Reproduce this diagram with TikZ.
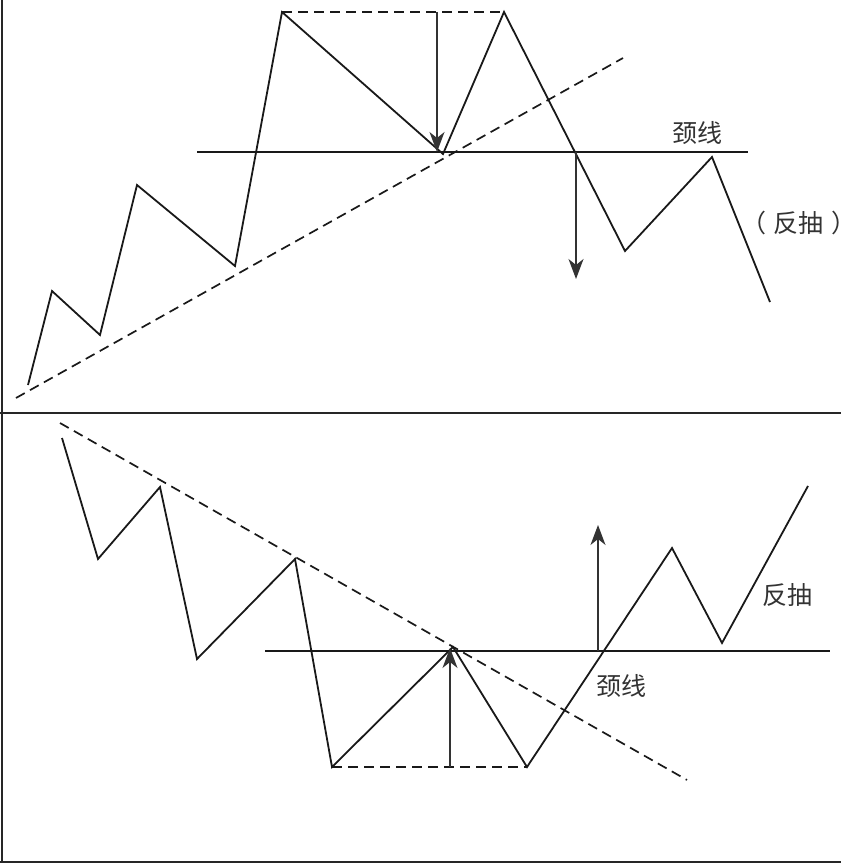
\documentclass[tikz,border=0pt]{standalone}
\usepackage{fontspec}
\newfontfamily\cjk{Noto Sans CJK SC}
\newfontfamily\cjkhalf{Noto Sans CJK SC}[RawFeature=+halt]
\usetikzlibrary{arrows.meta}
\tikzset{
  axisline/.style={line width=2.6pt, draw=black!85},
  price/.style={line width=1.8pt, draw=black!90, line join=miter},
  trend/.style={line width=1.7pt, draw=black!90, dash pattern=on 10pt off 6pt},
  neck/.style={line width=1.8pt, draw=black!90},
  measure/.style={line width=1.3pt, draw=black!80, -{Stealth[length=20pt,width=15pt,inset=6pt]}},
  lbl/.style={font=\cjk\fontsize{25pt}{25pt}\selectfont, text=black!80, inner sep=0pt}
}
\begin{document}
\begin{tikzpicture}[x=1pt,y=-1pt]
\useasboundingbox (0,0) rectangle (852,864);
% axes
\coordinate (O1) at (2,0);
\coordinate (O2) at (2,862);
\coordinate (M1) at (0,413);
\coordinate (M2) at (841,413);
\coordinate (L1) at (0,862);
\coordinate (L2) at (841,862);
\draw[axisline] (O1) -- (O2);
\draw[axisline] (M1) -- (M2);
\draw[axisline] (L1) -- (L2);

% ---------- top panel ----------
\coordinate (A1) at (28,385);
\coordinate (A2) at (52,291);
\coordinate (A3) at (100,335);
\coordinate (A4) at (137,185);
\coordinate (A5) at (235,266);
\coordinate (A6) at (282,12);
\coordinate (A7) at (443,154);
\coordinate (A8) at (504,12);
\coordinate (A9) at (625,251);
\coordinate (A10) at (712,157);
\coordinate (A11) at (770,302);
\coordinate (TS) at (16,398);
\coordinate (TE) at (623,58);
\coordinate (N1) at (197,152);
\coordinate (N2) at (748,152);
\coordinate (H1) at (437,12);
\coordinate (H2) at (437,152);
\coordinate (D1) at (576,152);
\coordinate (D2) at (576,279);

\draw[trend] (TS) -- (TE);
\draw[trend] (A6) -- (A8);
\draw[neck] (N1) -- (N2);
\draw[price] (A1) -- (A2) -- (A3) -- (A4) -- (A5) -- (A6) -- (A7) -- (A8) -- (A9) -- (A10) -- (A11);
\draw[measure] (H1) -- (H2);
\draw[measure] (D1) -- (D2);
\node[lbl] (tneck) at (697,133) {颈线};
\node[lbl] (tback) at (799,223) {{\cjkhalf（}\kern8pt 反抽\kern8pt{\cjkhalf）}};

% ---------- bottom panel ----------
\coordinate (B1) at (62,438);
\coordinate (B2) at (98,559);
\coordinate (B3) at (160,487);
\coordinate (B4) at (197,659);
\coordinate (B5) at (295,559);
\coordinate (B6) at (332,767);
\coordinate (B7) at (453,647);
\coordinate (B8) at (527,767);
\coordinate (B9) at (672,548);
\coordinate (B10) at (722,643);
\coordinate (B11) at (808,486);
\coordinate (US) at (60,423);
\coordinate (UE) at (687,780);
\coordinate (K1) at (265,651);
\coordinate (K2) at (830,651);
\coordinate (G1) at (450,767);
\coordinate (G2) at (450,648);
\coordinate (R1) at (598,651);
\coordinate (R2) at (598,525);

\draw[trend] (US) -- (UE);
\draw[trend] (B6) -- (B8);
\draw[neck] (K1) -- (K2);
\draw[price] (B1) -- (B2) -- (B3) -- (B4) -- (B5) -- (B6) -- (B7) -- (B8) -- (B9) -- (B10) -- (B11);
\draw[measure] (G1) -- (G2);
\draw[measure] (R1) -- (R2);
\node[lbl] (bneck) at (621,686) {颈线};
\node[lbl] (bback) at (787,595) {反抽};
\end{tikzpicture}
\end{document}
